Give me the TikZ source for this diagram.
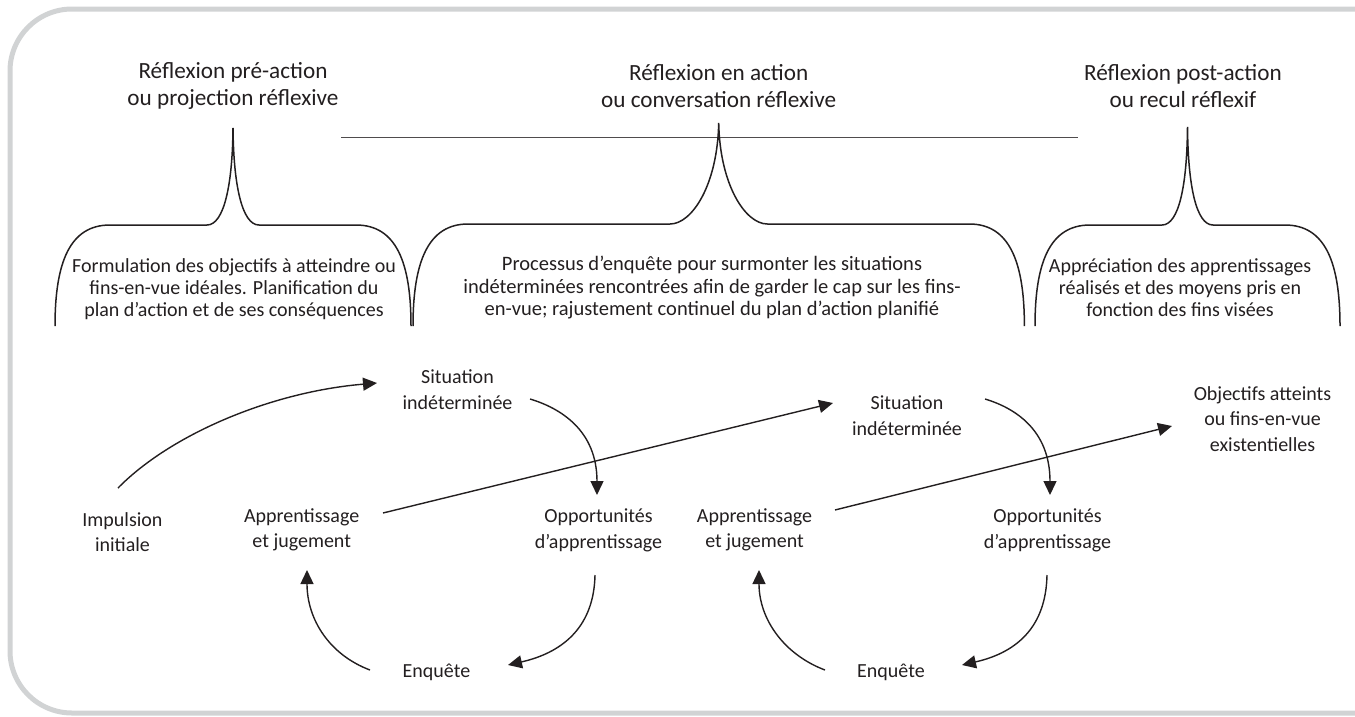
\documentclass[tikz,border=0pt]{standalone}
\usepackage{fontspec}
\setmainfont{Carlito}
\usetikzlibrary{arrows.meta,calc}
\definecolor{ink}{HTML}{231F20}
\definecolor{framegray}{HTML}{D1D3D4}
\begin{document}
\begin{tikzpicture}[x=1pt,y=-1pt,
  every node/.style={text=ink, inner sep=0pt},
  head/.style={align=center, font=\fontsize{23.2}{27}\selectfont},
  body/.style={align=center, font=\fontsize{20}{22}\selectfont},
  lab/.style={align=center, font=\fontsize{20}{25.5}\selectfont},
  brace/.style={draw=ink, line width=1.5pt},
  rule/.style={draw=ink!80, line width=1pt},
  arr/.style={draw=ink, line width=1.4pt, -{Triangle[length=14pt,width=13pt]}},
]
\path[use as bounding box, clip] (0,0) rectangle (1355,716);
\draw[framegray, line width=5pt, rounded corners=62pt] (1420,9) -- (10,9) -- (10,713) -- (1420,713);

% headings
\node[head] (h1) at (233,86) {Réflexion pré-action\\ou projection réflexive};
\node[head] (h2) at (718.7,86) {Réflexion en action\\ou conversation réflexive};
\node[head] (h3) at (1183,86) {Réflexion post-action\\ou recul réflexif};

% horizontal rule
\coordinate (hl) at (341,137.5);
\coordinate (hr) at (1078,137.5);
\draw[rule] (hl) -- (hr);

% braces
\draw[brace] (55,326) .. controls (55,262) and (70,225) .. (110,225) -- (207,225)
  .. controls (224,225) and (232.5,185) .. (233,128)
  .. controls (233.5,185) and (242,225) .. (259,225) -- (356,225)
  .. controls (396,225) and (411,262) .. (411,326);
\draw[brace] (413,326) .. controls (413,262) and (428,224) .. (468,224) -- (670,224)
  .. controls (692,224) and (717.5,185) .. (718.7,123)
  .. controls (719.9,185) and (745.4,224) .. (767.4,224) -- (969.4,224)
  .. controls (1009.4,224) and (1024.4,262) .. (1024.4,326);
\draw[brace] (1035,326) .. controls (1035,262) and (1050,225) .. (1090,225) -- (1162,225)
  .. controls (1179,225) and (1187,185) .. (1187.5,127)
  .. controls (1188,185) and (1196,225) .. (1213,225) -- (1285,225)
  .. controls (1325,225) and (1340,262) .. (1340,326);

% text blocks
\node[body] (t1) at (234,289) {Formulation des objectifs à atteindre ou\\fins-en-vue idéales. Planification du\\plan d’action et de ses conséquences};
\node[body, font=\fontsize{20.5}{22.5}\selectfont] (t2) at (712,288) {Processus d’enquête pour surmonter les situations\\indéterminées rencontrées afin de garder le cap sur les fins-\\en-vue; rajustement continuel du plan d’action planifié};
\node[body] (t3) at (1180,288) {Appréciation des apprentissages\\réalisés et des moyens pris en\\fonction des fins visées};

% cycle labels
\node[lab] (imp)  at (122.5,532) {Impulsion\\initiale};
\node[lab] (app1) at (301.7,530) {Apprentissage\\et jugement};
\node[lab] (sit1) at (457.5,389.5) {Situation\\indéterminée};
\node[lab] (opp1) at (598.5,530.5) {Opportunités\\d’apprentissage};
\node[lab] (enq1) at (436.5,672) {Enquête};
\node[lab] (app2) at (754.5,530) {Apprentissage\\et jugement};
\node[lab] (sit2) at (907,415.5) {Situation\\indéterminée};
\node[lab] (opp2) at (1047.5,530.5) {Opportunités\\d’apprentissage};
\node[lab] (enq2) at (891,672) {Enquête};
\node[lab] (obj)  at (1262.5,419) {Objectifs atteints\\ou fins-en-vue\\existentielles};

% connectors
\draw[arr] ([shift={(-4.5,-44)}]imp.center) .. controls +(52,-53) and +(-107,9) .. ([shift={(-80.5,-6.5)}]sit1.center);
\draw[arr] ([shift={(72.5,9.5)}]sit1.center) .. controls +(30,9) and +(0,-65) .. ([shift={(-1.5,-35.5)}]opp1.center);
\draw[arr] ([shift={(-3.5,44.5)}]opp1.center) .. controls +(-1,50) and +(57,-13) .. ([shift={(71.5,-7)}]enq1.center);
\draw[arr] ([shift={(-66.5,-2)}]enq1.center) .. controls +(-40,-15) and +(0,50) .. ([shift={(5.3,40)}]app1.center);
\draw[arr] ([shift={(81.3,-17)}]app1.center) -- ([shift={(-74,-12.5)}]sit2.center);
\draw[arr] ([shift={(78,-16.5)}]sit2.center) .. controls +(30,9) and +(0,-65) .. ([shift={(2.5,-35.5)}]opp2.center);
\draw[arr] ([shift={(-0.5,44.5)}]opp2.center) .. controls +(-1,50) and +(57,-13) .. ([shift={(71,-7)}]enq2.center);
\draw[arr] ([shift={(-66,-2)}]enq2.center) .. controls +(-40,-15) and +(0,50) .. ([shift={(4.5,40)}]app2.center);
\draw[arr] ([shift={(80.5,-20)}]app2.center) -- ([shift={(-90.5,7)}]obj.center);
\end{tikzpicture}
\end{document}
